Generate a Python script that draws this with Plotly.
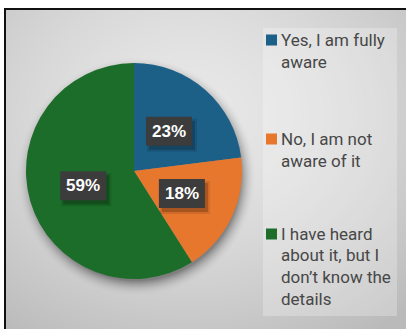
import base64
import math
import struct
import zlib

import numpy as np
import plotly.graph_objects as go

# Survey answers and their shares (percent)
categories = [
    "Yes, I am fully aware",
    "No, I am not aware of it",
    "I have heard about it, but I don’t know the details",
]
legend_lines = [
    ["Yes, I am fully", "aware"],
    ["No, I am not", "aware of it"],
    ["I have heard", "about it, but I", "don’t know the", "details"],
]
shares = [23, 18, 59]
colors = ["#1c5f87", "#e8772e", "#1b6d29"]

W, H = 406, 329
CX, CY, R = 134, 171, 108  # pie centre and radius in pixels


def px(x):
    return x / W


def py(y):
    return 1 - y / H


def png_data_uri(rgb):
    """Encode an HxWx3 uint8 array as a PNG data URI."""
    h, w, _ = rgb.shape
    raw = b"".join(b"\x00" + rgb[r].tobytes() for r in range(h))

    def chunk(tag, data):
        return (struct.pack(">I", len(data)) + tag + data
                + struct.pack(">I", zlib.crc32(tag + data) & 0xFFFFFFFF))

    png = (b"\x89PNG\r\n\x1a\n"
           + chunk(b"IHDR", struct.pack(">IIBBBBB", w, h, 8, 2, 0, 0, 0))
           + chunk(b"IDAT", zlib.compress(raw, 9))
           + chunk(b"IEND", b""))
    return "data:image/png;base64," + base64.b64encode(png).decode()


# Background panel: grey radial wash with a soft drop shadow under the pie
yy, xx = np.mgrid[0:H, 0:W].astype(float)
d_bg = np.hypot((xx - 190) / 290, (yy - 115) / 240)
bg = 232 - 40 * np.clip(d_bg, 0, 1.1) ** 1.5
d_sh = np.hypot(xx - (CX + 2), yy - (CY + 5))
t = np.clip((d_sh - (R - 4)) / 16, 0, 1)
shadow = 0.40 * (1 - t) ** 2
bg = bg * (1 - shadow)
img = np.repeat(bg[:, :, None], 3, axis=2).round().clip(0, 255).astype(np.uint8)
img[:9, :, :] = 255
img[:, :5, :] = 255
bg_src = png_data_uri(img)

fig = go.Figure()
fig.add_trace(go.Pie(
    labels=categories,
    values=shares,
    sort=False,
    direction="clockwise",
    rotation=0,
    marker=dict(colors=colors, line=dict(width=0)),
    textinfo="none",
    hoverinfo="label+percent",
    showlegend=False,
    domain=dict(x=[px(CX - R), px(CX + R)], y=[py(CY + R), py(CY - R)]),
))

shapes = [
    dict(type="rect", xref="paper", yref="paper", layer="below",
         x0=px(5), x1=1.05, y0=-0.05, y1=py(9),
         line=dict(color="#111111", width=2), fillcolor="rgba(0,0,0,0)"),
    dict(type="rect", xref="paper", yref="paper", layer="below",
         x0=px(263), x1=px(397), y0=py(316), y1=py(28),
         line=dict(width=0), fillcolor="rgba(255,255,255,0.25)"),
]
annotations = []

# Percentage labels on dark boxes at each slice's mid-angle
BOX_W, BOX_H = 46, 29
total = sum(shares)
cum = 0
for v in shares:
    mid = (cum + v / 2) / total * 2 * math.pi
    cum += v
    lx = CX + 0.49 * R * math.sin(mid)
    ly = CY - 0.49 * R * math.cos(mid)
    # soft shadow offset below-right of the box
    for grow, alpha in [(2, 0.10), (0, 0.20)]:
        shapes.append(dict(
            type="rect", xref="paper", yref="paper", layer="above",
            x0=px(lx - BOX_W / 2 + 3 - grow), x1=px(lx + BOX_W / 2 + 3 + grow),
            y0=py(ly + BOX_H / 2 + 4 + grow), y1=py(ly - BOX_H / 2 + 4 - grow),
            line=dict(width=0), fillcolor=f"rgba(0,0,0,{alpha})"))
    shapes.append(dict(
        type="rect", xref="paper", yref="paper", layer="above",
        x0=px(lx - BOX_W / 2), x1=px(lx + BOX_W / 2),
        y0=py(ly + BOX_H / 2), y1=py(ly - BOX_H / 2),
        line=dict(width=0), fillcolor="#3c3c3c"))
    annotations.append(dict(
        x=px(lx), y=py(ly), xref="paper", yref="paper",
        xanchor="center", yanchor="middle",
        text=f"<b>{round(v / total * 100)}%</b>", showarrow=False,
        font=dict(family="Liberation Sans, Arial, sans-serif", size=17, color="white"),
    ))

# Legend on the right: colour square plus wrapped label lines
entry_baseline = [45.5, 144.5, 239.5]
line_pitch = 21.5
for lines, col, base in zip(legend_lines, colors, entry_baseline):
    shapes.append(dict(type="rect", xref="paper", yref="paper",
                       x0=px(266), x1=px(277), y0=py(base), y1=py(base - 11),
                       line=dict(width=0), fillcolor=col))
    for i, line in enumerate(lines):
        annotations.append(dict(
            x=px(280), y=py(base + i * line_pitch - 5.5), xref="paper", yref="paper",
            xanchor="left", yanchor="middle", align="left",
            text=line, showarrow=False, borderpad=0,
            font=dict(family="Roboto, Liberation Sans, sans-serif",
                      size=17, color="#474747"),
        ))

fig.update_layout(
    width=W, height=H,
    margin=dict(l=0, r=0, t=0, b=0),
    paper_bgcolor="white",
    plot_bgcolor="white",
    images=[dict(source=bg_src, xref="paper", yref="paper",
                 x=0, y=1, sizex=1, sizey=1,
                 xanchor="left", yanchor="top", sizing="stretch", layer="below")],
    shapes=shapes,
    annotations=annotations,
)

fig.write_html("out.html")
